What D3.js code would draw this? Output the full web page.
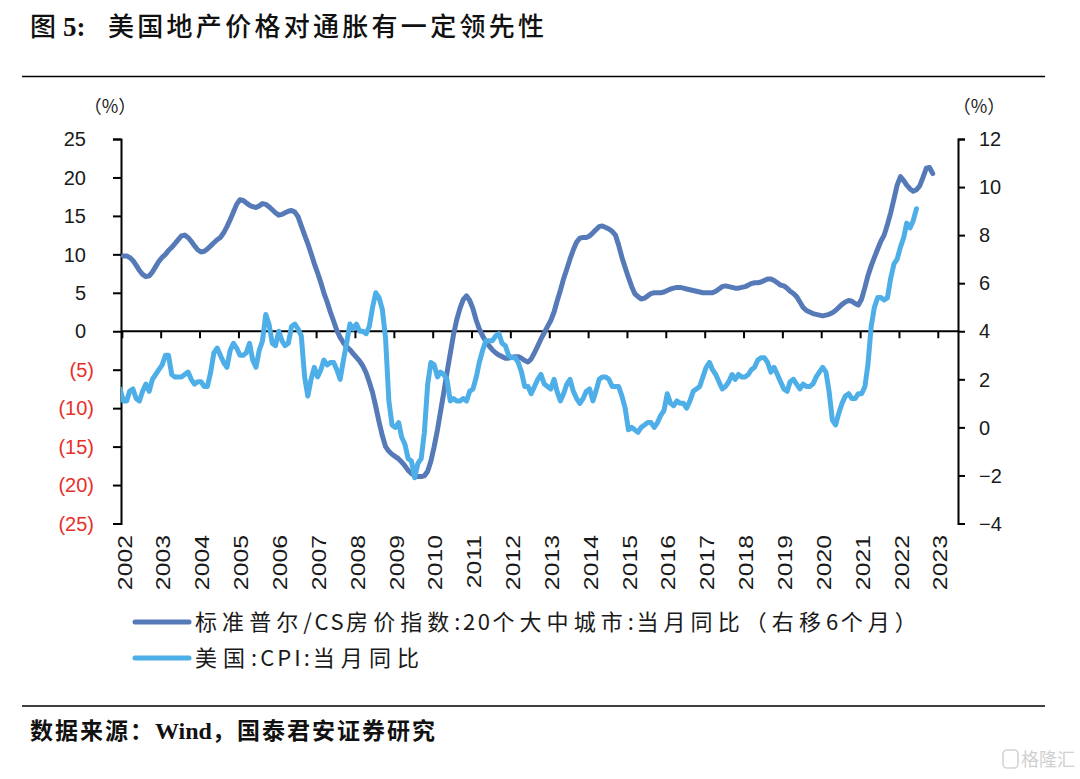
<!DOCTYPE html>
<html><head><meta charset="utf-8">
<script src="https://cdn.jsdelivr.net/npm/d3@7"></script>
<style>
html,body{margin:0;padding:0;background:#fff;}
svg{display:block;}
</style></head>
<body>
<svg id="chart" width="1080" height="779"></svg>
<script>
// ---------------- data ----------------
const titleText = "美国地产价格对通胀有一定领先性";
const sourceParts = ["数据来源：", "Wind", "，国泰君安证券研究"];
const seriesNames = ["标准普尔/CS房价指数:20个大中城市:当月同比（右移6个月）", "美国:CPI:当月同比"];

// S&P/Case-Shiller 20-city YoY (%), shifted right 6 months, monthly from 2002-01 (left axis)
const houseStart = "2002-01";
const houseYoY = [
  9.8, 9.8, 9.6, 9.2, 8.6, 7.9, 7.4, 7.1, 7.2, 7.7, 8.4, 9.1,
  9.6, 10.0, 10.5, 10.9, 11.4, 11.9, 12.4, 12.5, 12.2, 11.7, 11.1, 10.6,
  10.3, 10.4, 10.7, 11.1, 11.5, 11.9, 12.2, 12.8, 13.6, 14.5, 15.5, 16.5,
  17.1, 17.0, 16.7, 16.4, 16.2, 16.1, 16.3, 16.6, 16.5, 16.2, 15.8, 15.4,
  15.1, 15.2, 15.4, 15.6, 15.7, 15.5, 14.9, 13.7, 12.5, 11.4, 10.1, 8.8,
  7.6, 6.3, 5.0, 3.8, 2.5, 1.3, 0.1, -0.8, -1.5, -2.0, -2.4, -2.9,
  -3.4, -3.9, -4.5, -5.4, -6.6, -8.0, -9.8, -11.8, -13.6, -15.0, -15.6, -16.0,
  -16.3, -16.6, -17.0, -17.5, -18.1, -18.5, -18.8, -18.9, -18.9, -18.8, -18.2, -16.9,
  -15.0, -12.8, -10.5, -8.0, -5.4, -2.9, -0.5, 1.5, 3.0, 4.1, 4.6, 4.0,
  2.9, 1.4, 0.3, -0.6, -1.3, -1.9, -2.4, -2.8, -3.1, -3.3, -3.5, -3.5,
  -3.4, -3.3, -3.3, -3.5, -3.8, -4.0, -3.6, -2.8, -1.9, -1.0, -0.2, 0.6,
  1.4, 2.5, 3.9, 5.3, 6.8, 8.1, 9.4, 10.6, 11.6, 12.1, 12.2, 12.2,
  12.4, 12.8, 13.2, 13.6, 13.7, 13.5, 13.3, 13.0, 12.5, 11.2, 9.6, 8.3,
  7.0, 5.8, 4.9, 4.5, 4.2, 4.3, 4.6, 4.9, 5.0, 5.0, 5.0, 5.1,
  5.3, 5.5, 5.6, 5.7, 5.7, 5.6, 5.5, 5.4, 5.3, 5.2, 5.1, 5.0,
  5.0, 5.0, 5.0, 5.2, 5.5, 5.8, 5.9, 5.8, 5.7, 5.6, 5.6, 5.7,
  5.8, 6.0, 6.2, 6.3, 6.3, 6.4, 6.6, 6.8, 6.8, 6.6, 6.3, 6.0,
  5.9, 5.6, 5.2, 4.9, 4.5, 3.8, 3.1, 2.7, 2.5, 2.3, 2.2, 2.1,
  2.0, 2.1, 2.2, 2.4, 2.7, 3.1, 3.5, 3.8, 4.0, 3.9, 3.6, 3.4,
  4.2, 5.7, 7.2, 8.5, 9.6, 10.7, 11.7, 12.5, 13.9, 15.4, 17.2, 19.0,
  20.1, 19.6, 19.0, 18.5, 18.2, 18.4, 18.9, 20.0, 21.2, 21.3, 20.5
];

// US CPI YoY (%), monthly from 2001-12 (right axis)
const cpiStart = "2001-12";
const cpiYoY = [
  1.6,
  1.1, 1.1, 1.5, 1.6, 1.2, 1.1, 1.5, 1.8, 1.5, 2.0, 2.2, 2.4,
  2.6, 3.0, 3.0, 2.2, 2.1, 2.1, 2.1, 2.2, 2.3, 2.0, 1.8, 1.9,
  1.9, 1.7, 1.7, 2.3, 3.1, 3.3, 3.0, 2.7, 2.5, 3.2, 3.5, 3.3,
  3.0, 3.0, 3.1, 3.5, 2.8, 2.5, 3.2, 3.6, 4.7, 4.3, 3.5, 3.4,
  4.0, 3.6, 3.4, 3.5, 4.2, 4.3, 4.1, 3.8, 2.1, 1.3, 2.0, 2.5,
  2.1, 2.4, 2.8, 2.6, 2.7, 2.7, 2.4, 2.0, 2.8, 3.5, 4.3, 4.1,
  4.3, 4.0, 4.0, 3.9, 4.2, 5.0, 5.6, 5.4, 4.9, 3.7, 1.1, 0.1,
  0.0, 0.2, -0.4, -0.7, -1.3, -1.4, -2.1, -1.5, -1.3, -0.2, 1.8, 2.7,
  2.6, 2.1, 2.3, 2.2, 2.0, 1.1, 1.2, 1.1, 1.1, 1.2, 1.1, 1.5,
  1.6, 2.1, 2.7, 3.2, 3.6, 3.6, 3.6, 3.8, 3.9, 3.5, 3.4, 3.0,
  2.9, 2.9, 2.7, 2.3, 1.7, 1.7, 1.4, 1.7, 2.0, 2.2, 1.8, 1.7,
  1.6, 2.0, 1.5, 1.1, 1.4, 1.8, 2.0, 1.5, 1.2, 1.0, 1.2, 1.5,
  1.6, 1.1, 1.5, 2.0, 2.1, 2.1, 2.0, 1.7, 1.7, 1.7, 1.3, 0.8,
  -0.1, 0.0, -0.1, -0.2, 0.0, 0.1, 0.2, 0.2, 0.0, 0.2, 0.5, 0.7,
  1.4, 1.0, 0.9, 1.1, 1.0, 1.0, 0.8, 1.1, 1.5, 1.6, 1.7, 2.1,
  2.5, 2.7, 2.4, 2.2, 1.9, 1.6, 1.7, 1.9, 2.2, 2.0, 2.2, 2.1,
  2.1, 2.2, 2.4, 2.5, 2.8, 2.9, 2.9, 2.7, 2.3, 2.5, 2.2, 1.9,
  1.6, 1.5, 1.9, 2.0, 1.8, 1.6, 1.8, 1.7, 1.7, 1.8, 2.1, 2.3,
  2.5, 2.3, 1.5, 0.3, 0.1, 0.6, 1.0, 1.3, 1.4, 1.2, 1.2, 1.4,
  1.4, 1.7, 2.6, 4.2, 5.0, 5.4, 5.4, 5.3, 5.4, 6.2, 6.8, 7.0,
  7.5, 7.9, 8.5, 8.3, 8.6, 9.1
];

const yearLabels = d3.range(2002, 2024);          // 2002 … 2023
const leftTicks = d3.range(-25, 26, 5);           // -25 … 25
const rightTicks = d3.range(-4, 13, 2);           // -4 … 12
const xDomain = ["2002-01-01", "2023-07-10"];

// ---------------- layout ----------------
const svg = d3.select("#chart");
const W = 1080, H = 779;
const plot = {left: 121, right: 958, top: 139, bottom: 523.5};
const colDark = "#5679b8", colLight = "#4eaee8";
const numFont = "'Liberation Sans', Arial, sans-serif";
const cjkFont = "'Noto Sans CJK SC', 'Noto Sans', sans-serif";
const serifFont = "'Liberation Serif', 'Times New Roman', serif";

const parse = d3.timeParse("%Y-%m-%d");
const x = d3.scaleTime().domain(xDomain.map(parse)).range([plot.left + 0.85, plot.right]);
const yL = d3.scaleLinear().domain([-25, 25]).range([plot.bottom, plot.top]);
const yR = d3.scaleLinear().domain([-4, 12]).range([plot.bottom, plot.top]);

function monthly(start, values) {
  const [y0, m0] = start.split("-").map(Number);
  return values.map((v, i) => ({date: new Date(y0, m0 - 1 + i, 15), v}));
}
const houseData = monthly(houseStart, houseYoY);
const cpiData = monthly(cpiStart, cpiYoY);

svg.append("rect").attr("width", W).attr("height", H).attr("fill", "#fff");

// title
svg.append("text").attr("x", 30).attr("y", 36).attr("font-family", cjkFont)
  .attr("font-size", 26).attr("font-weight", 500).attr("fill", "#111").text("图");
svg.append("text").attr("x", 63).attr("y", 36).attr("font-family", serifFont)
  .attr("font-weight", "bold").attr("font-size", 27).attr("fill", "#111").text("5:");
svg.append("text").attr("x", 108).attr("y", 36).attr("font-family", cjkFont)
  .attr("font-size", 26).attr("font-weight", 500).attr("fill", "#111")
  .attr("textLength", 436).attr("lengthAdjust", "spacing").text(titleText);

// rules
svg.append("line").attr("x1", 22).attr("x2", 1045).attr("y1", 76.5).attr("y2", 76.5)
  .attr("stroke", "#000").attr("stroke-width", 1.5);
svg.append("line").attr("x1", 22).attr("x2", 1045).attr("y1", 706).attr("y2", 706)
  .attr("stroke", "#000").attr("stroke-width", 1.5);

// clip
svg.append("clipPath").attr("id", "clip").append("rect")
  .attr("x", plot.left).attr("y", 0).attr("width", plot.right - plot.left).attr("height", H);

// axes
const axisG = svg.append("g");
const leftAxis = d3.axisLeft(yL).tickValues(leftTicks).tickSize(8).tickFormat(() => "");
const gL = axisG.append("g").attr("transform", `translate(${plot.left},0)`).call(leftAxis);
const rightAxis = d3.axisRight(yR).tickValues(rightTicks).tickSize(7).tickFormat(() => "");
const gR = axisG.append("g").attr("transform", `translate(${plot.right},0)`).call(rightAxis);
const yearTickDates = yearLabels.map(yv => new Date(yv, 0, 1));
const bottomAxis = d3.axisBottom(x).tickValues(yearTickDates).tickSize(7).tickFormat(() => "");
const gX = axisG.append("g").attr("transform", `translate(0,${yL(0)})`).call(bottomAxis);
[gL, gR, gX].forEach(g => {
  g.select(".domain").attr("stroke", "#000").attr("stroke-width", 2);
  g.selectAll(".tick line").attr("stroke", "#000").attr("stroke-width", 2);
});
gX.select(".domain").attr("d", `M${plot.left},0H${plot.right}`);

// left tick labels
svg.append("g").selectAll("text").data(leftTicks).join("text")
  .attr("x", d => d < 0 ? 94 : 86)
  .attr("y", d => yL(d)).attr("dy", "0.36em")
  .attr("text-anchor", "end").attr("font-family", numFont).attr("font-size", 20)
  .attr("fill", d => d < 0 ? "#e8302a" : "#1a1a1a")
  .text(d => d < 0 ? `(${-d})` : d3.format("d")(d));

// right tick labels
svg.append("g").selectAll("text").data(rightTicks).join("text")
  .attr("x", 979).attr("y", d => yR(d)).attr("dy", "0.36em")
  .attr("text-anchor", "start").attr("font-family", numFont).attr("font-size", 20)
  .attr("fill", "#1a1a1a")
  .text(d => d < 0 ? "\u2212" + (-d) : d);

// unit labels
svg.append("text").attr("x", 110).attr("y", 113).attr("text-anchor", "middle")
  .attr("font-family", cjkFont).attr("font-size", 18).attr("fill", "#1a1a1a").text("（%）");
svg.append("text").attr("x", 979).attr("y", 113).attr("text-anchor", "middle")
  .attr("font-family", cjkFont).attr("font-size", 18).attr("fill", "#1a1a1a").text("（%）");

// year labels (slightly elongated, as in the source)
svg.append("g").selectAll("text").data(yearLabels).join("text")
  .attr("transform", d => `translate(${x(new Date(d, 0, 1)) + 3},535) rotate(-90) scale(1.24,1)`)
  .attr("text-anchor", "end").attr("dominant-baseline", "central")
  .attr("font-family", numFont).attr("font-size", 20).attr("fill", "#1a1a1a")
  .text(d => d);

// lines
const lineL = d3.line().x(d => x(d.date)).y(d => yL(d.v));
const lineR = d3.line().x(d => x(d.date)).y(d => yR(d.v));
const linesG = svg.append("g").attr("clip-path", "url(#clip)");
linesG.append("path").datum(houseData).attr("d", lineL)
  .attr("fill", "none").attr("stroke", colDark).attr("stroke-width", 5)
  .attr("stroke-linejoin", "round").attr("stroke-linecap", "round");
linesG.append("path").datum(cpiData).attr("d", lineR)
  .attr("fill", "none").attr("stroke", colLight).attr("stroke-width", 5)
  .attr("stroke-linejoin", "round").attr("stroke-linecap", "round");

// legend: per-character spacing (CJK wider, ASCII narrower), fitted to target width
const legend = [
  {name: seriesNames[0], color: colDark, y: 622, len: 727},
  {name: seriesNames[1], color: colLight, y: 658, len: 230}
];
const isCJK = ch => /[\u3000-\u9fff\uff00-\uffef]/.test(ch);
function runs(str) {
  const out = [];
  for (const ch of str) {
    const c = isCJK(ch);
    if (out.length && out[out.length - 1].cjk === c) out[out.length - 1].t += ch;
    else out.push({t: ch, cjk: c});
  }
  return out;
}
legend.forEach(item => {
  svg.append("line").attr("x1", 135).attr("x2", 189).attr("y1", item.y).attr("y2", item.y)
    .attr("stroke", item.color).attr("stroke-width", 5).attr("stroke-linecap", "round");
  const t = svg.append("text").attr("x", 195).attr("y", item.y).attr("dy", "0.36em")
    .attr("font-family", cjkFont).attr("font-size", 22).attr("fill", "#1a1a1a");
  const rs = runs(item.name);
  const spans = rs.map(r => t.append("tspan").text(r.t).attr("letter-spacing", 0));
  const natural = t.node().getComputedTextLength();
  const nC = rs.filter(r => r.cjk).reduce((s, r) => s + [...r.t].length, 0);
  const nA = rs.filter(r => !r.cjk).reduce((s, r) => s + [...r.t].length, 0);
  const aw = 0.5;
  const sp = Math.max(0, (item.len - natural) / (nC + aw * nA));
  spans.forEach((s, i) => s.attr("letter-spacing", rs[i].cjk ? sp : sp * aw));
});

// source
const src = svg.append("text").attr("x", 30).attr("y", 739).attr("font-family", cjkFont)
  .attr("font-size", 23).attr("font-weight", "bold").attr("fill", "#111");
src.append("tspan").attr("letter-spacing", 2).text(sourceParts[0]);
src.append("tspan").attr("font-family", serifFont).attr("font-size", 24).text(sourceParts[1]);
src.append("tspan").attr("letter-spacing", 2).text(sourceParts[2]);

// watermark
const wm = svg.append("g").attr("fill", "none").attr("stroke", "#d4d4d4");
wm.append("rect").attr("x", 1003).attr("y", 750).attr("width", 15).attr("height", 18).attr("rx", 4).attr("stroke-width", 1.6);
svg.append("text").attr("x", 1075).attr("y", 766).attr("text-anchor", "end")
  .attr("font-family", cjkFont).attr("font-size", 18).attr("fill", "#d0d0d0").text("格隆汇");
</script>
</body></html>
